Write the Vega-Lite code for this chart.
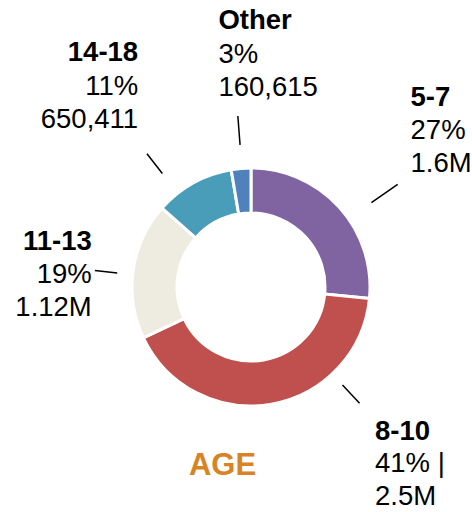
{
  "$schema": "https://vega.github.io/schema/vega-lite/v6.json",
  "autosize": {"type": "none"},
  "padding": {"left": 30, "top": 62, "right": 0, "bottom": 0},
  "width": 442,
  "height": 450,
  "background": "white",
  "config": {"view": {"stroke": null}, "text": {"font": "Liberation Sans"}},
  "data": {
    "values": [
      {"age": "5-7", "rank": 1, "value": 1600000, "detail": "27%\n1.6M"},
      {"age": "8-10", "rank": 2, "value": 2500000, "detail": "41% |\n2.5M"},
      {"age": "11-13", "rank": 3, "value": 1120000, "detail": "19%\n1.12M"},
      {"age": "14-18", "rank": 4, "value": 650411, "detail": "11%\n650,411"},
      {"age": "Other", "rank": 5, "value": 160615, "detail": "3%\n160,615"}
    ]
  },
  "layer": [
    {
      "encoding": {
        "theta": {"field": "value", "type": "quantitative", "stack": true},
        "order": {"field": "rank", "type": "quantitative"}
      },
      "layer": [
        {
          "mark": {"type": "arc", "innerRadius": 74, "outerRadius": 119, "stroke": "white", "strokeWidth": 3},
          "encoding": {
            "color": {
              "field": "age", "type": "nominal", "legend": null,
              "scale": {"domain": ["5-7", "8-10", "11-13", "14-18", "Other"], "range": ["#8064A2", "#C0504D", "#EEECE1", "#4A9DB8", "#4F81BD"]}
            }
          }
        },
        {
          "mark": {"type": "text", "radius": 175, "align": "left", "baseline": "alphabetic", "fontSize": 27.5, "fontWeight": "bold", "dx": 30, "dy": -63},
          "encoding": {"detail": {"field": "age"}, "text": {"condition": {"test": "datum.age === '5-7'", "field": "age"}, "value": ""}}
        },
        {
          "mark": {"type": "text", "radius": 175, "align": "left", "baseline": "alphabetic", "fontSize": 27.5, "lineBreak": "\n", "lineHeight": 33, "dx": 30, "dy": -30},
          "encoding": {"detail": {"field": "age"}, "text": {"condition": {"test": "datum.age === '5-7'", "field": "detail"}, "value": ""}}
        },
        {
          "mark": {"type": "text", "radius": 175, "align": "left", "baseline": "alphabetic", "fontSize": 27.5, "fontWeight": "bold", "dx": 94, "dy": -19},
          "encoding": {"detail": {"field": "age"}, "text": {"condition": {"test": "datum.age === '8-10'", "field": "age"}, "value": ""}}
        },
        {
          "mark": {"type": "text", "radius": 175, "align": "left", "baseline": "alphabetic", "fontSize": 27.5, "lineBreak": "\n", "lineHeight": 33, "dx": 94, "dy": 13},
          "encoding": {"detail": {"field": "age"}, "text": {"condition": {"test": "datum.age === '8-10'", "field": "detail"}, "value": ""}}
        },
        {
          "mark": {"type": "text", "radius": 175, "align": "right", "baseline": "alphabetic", "fontSize": 27.5, "fontWeight": "bold", "dx": 14, "dy": -12},
          "encoding": {"detail": {"field": "age"}, "text": {"condition": {"test": "datum.age === '11-13'", "field": "age"}, "value": ""}}
        },
        {
          "mark": {"type": "text", "radius": 175, "align": "right", "baseline": "alphabetic", "fontSize": 27.5, "lineBreak": "\n", "lineHeight": 33, "dx": 14, "dy": 21},
          "encoding": {"detail": {"field": "age"}, "text": {"condition": {"test": "datum.age === '11-13'", "field": "detail"}, "value": ""}}
        },
        {
          "mark": {"type": "text", "radius": 175, "align": "right", "baseline": "alphabetic", "fontSize": 27.5, "fontWeight": "bold", "dx": -28, "dy": -73},
          "encoding": {"detail": {"field": "age"}, "text": {"condition": {"test": "datum.age === '14-18'", "field": "age"}, "value": ""}}
        },
        {
          "mark": {"type": "text", "radius": 175, "align": "right", "baseline": "alphabetic", "fontSize": 27.5, "lineBreak": "\n", "lineHeight": 33, "dx": -28, "dy": -39},
          "encoding": {"detail": {"field": "age"}, "text": {"condition": {"test": "datum.age === '14-18'", "field": "detail"}, "value": ""}}
        },
        {
          "mark": {"type": "text", "radius": 175, "align": "left", "baseline": "alphabetic", "fontSize": 27.5, "fontWeight": "bold", "dx": -18, "dy": -84},
          "encoding": {"detail": {"field": "age"}, "text": {"condition": {"test": "datum.age === 'Other'", "field": "age"}, "value": ""}}
        },
        {
          "mark": {"type": "text", "radius": 175, "align": "left", "baseline": "alphabetic", "fontSize": 27.5, "lineBreak": "\n", "lineHeight": 33, "dx": -18, "dy": -50},
          "encoding": {"detail": {"field": "age"}, "text": {"condition": {"test": "datum.age === 'Other'", "field": "detail"}, "value": ""}}
        }
      ]
    },
    {
      "data": {"values": [{"leader": "5-7"}]},
      "mark": {"type": "arc", "theta": 0.96, "theta2": 0.96, "radius": 179, "radius2": 147, "fill": null, "stroke": "black", "strokeWidth": 1.5},
      "encoding": {}
    },
    {
      "data": {"values": [{"leader": "8-10"}]},
      "mark": {"type": "arc", "theta": 2.39, "theta2": 2.39, "radius": 159, "radius2": 134, "fill": null, "stroke": "black", "strokeWidth": 1.5},
      "encoding": {}
    },
    {
      "data": {"values": [{"leader": "11-13"}]},
      "mark": {"type": "arc", "theta": 4.817, "theta2": 4.817, "radius": 157, "radius2": 134.5, "fill": null, "stroke": "black", "strokeWidth": 1.5},
      "encoding": {}
    },
    {
      "data": {"values": [{"leader": "14-18"}]},
      "mark": {"type": "arc", "theta": 5.62, "theta2": 5.62, "radius": 169, "radius2": 144, "fill": null, "stroke": "black", "strokeWidth": 1.5},
      "encoding": {}
    },
    {
      "data": {"values": [{"leader": "Other"}]},
      "mark": {"type": "arc", "theta": 6.2064, "theta2": 6.2064, "radius": 171.5, "radius2": 142.5, "fill": null, "stroke": "black", "strokeWidth": 1.5},
      "encoding": {}
    },
    {
      "data": {"values": [{"title": "AGE"}]},
      "mark": {"type": "text", "align": "center", "baseline": "alphabetic", "fontSize": 31, "fontWeight": "bold", "color": "#D98327", "dx": -28.5, "dy": 188},
      "encoding": {"text": {"field": "title"}}
    }
  ]
}
